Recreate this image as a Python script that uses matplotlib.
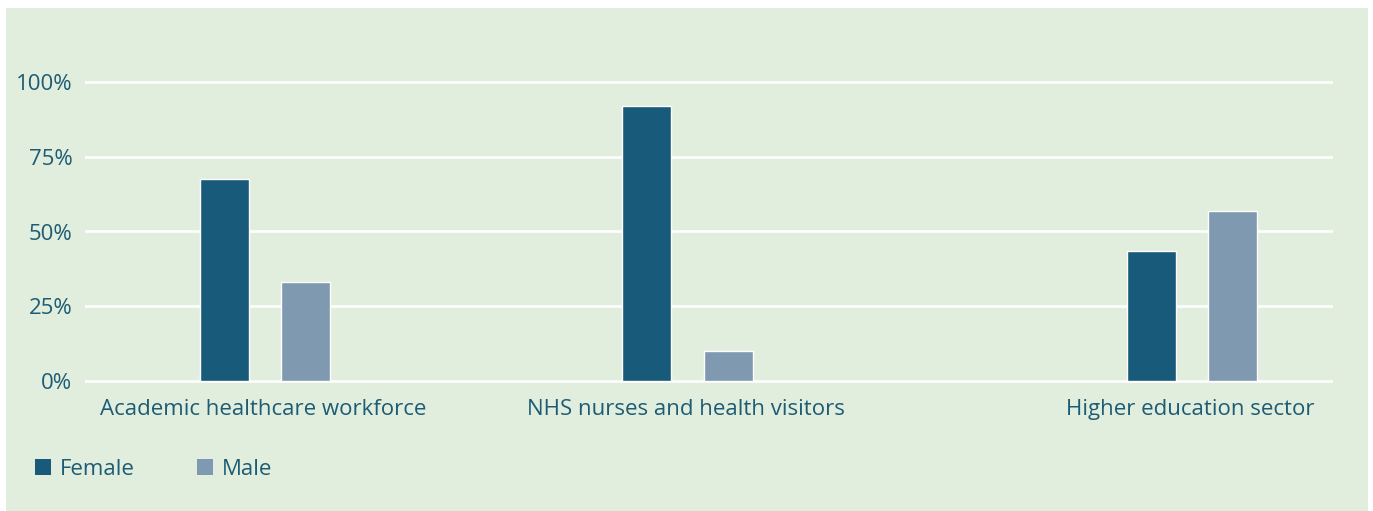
import matplotlib
matplotlib.use("Agg")
import matplotlib.pyplot as plt
from matplotlib.patches import Rectangle, Patch
from matplotlib.ticker import FuncFormatter

categories = ["Academic healthcare workforce", "NHS nurses and health visitors", "Higher education sector"]
female = [67.5, 92, 43.5]
male = [33, 10, 57]
series_names = ["Female", "Male"]
yticks = [0, 25, 50, 75, 100]

# layout (axis-fraction positions of category centres)
positions = [0.1442, 0.4828, 0.8870]
bar_w = 0.0393
offset = 0.0325

BG = "#e1eedd"
TXT = "#1d5c74"
C_F = "#175a7a"
C_M = "#7f99b0"
FS = 16

plt.rcParams['font.family'] = ['Open Sans', 'DejaVu Sans']

W, H = 1373, 511
fig = plt.figure(figsize=(W / 100, H / 100), dpi=100, facecolor="white")
fig.patches.append(Rectangle((6 / W, 0), (1368 - 6) / W, (H - 8) / H,
                             transform=fig.transFigure, facecolor=BG, edgecolor="none", zorder=-10))

ymin, ymax = -2, 110
ppu = 299 / 100.0
y0 = 381
top_px = y0 - ymax * ppu
bot_px = y0 - ymin * ppu
ax = fig.add_axes([85 / W, (H - bot_px) / H, 1248 / W, (bot_px - top_px) / H])
ax.patch.set_alpha(0)
ax.set_xlim(0, 1)
ax.set_ylim(ymin, ymax)
for s in ax.spines.values():
    s.set_visible(False)

for t in yticks:
    ax.axhline(t, color="white", lw=1.9, zorder=1)

xf = [p - offset for p in positions]
xm = [p + offset for p in positions]
ax.bar(xf, female, width=bar_w, color=C_F, edgecolor="white", linewidth=1.0, zorder=2, label=series_names[0])
ax.bar(xm, male, width=bar_w, color=C_M, edgecolor="white", linewidth=1.0, zorder=2, label=series_names[1])

ax.set_yticks(yticks)
ax.yaxis.set_major_formatter(FuncFormatter(lambda v, p: f"{int(v)}%"))
ax.set_xticks([p - 0.0015 for p in positions])
ax.set_xticklabels(categories)
ax.tick_params(axis="both", length=0, labelsize=FS, labelcolor=TXT)
ax.tick_params(axis="y", pad=9)
ax.tick_params(axis="x", pad=9)

handles = [Patch(facecolor=C_F, edgecolor="none"), Patch(facecolor=C_M, edgecolor="none")]
fig.legend(handles, series_names, loc="center left", bbox_to_anchor=(15 / W, (H - 469) / H),
           frameon=False, ncol=2, fontsize=FS, labelcolor=TXT,
           handlelength=0.72, handleheight=0.72, handletextpad=0.4, columnspacing=2.78)

fig.savefig("out.png", dpi=100, facecolor="white")
